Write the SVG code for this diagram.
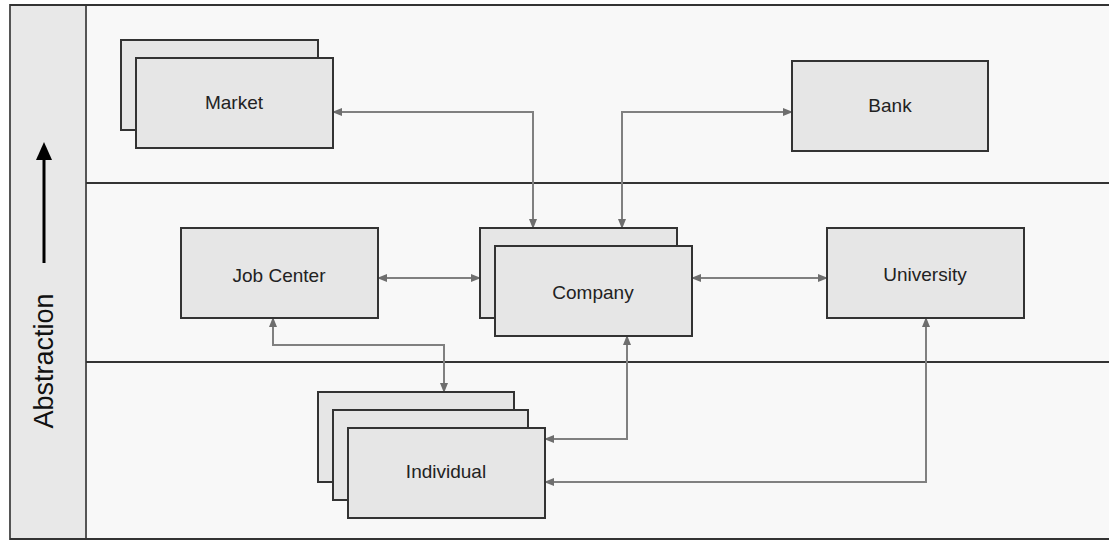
<svg xmlns="http://www.w3.org/2000/svg" width="1109" height="541" viewBox="0 0 1109 541">
<defs>
<style>
.node{fill:#e6e6e6;stroke:#333;stroke-width:2}
.lbl{font-family:"Liberation Sans",Arial,sans-serif;font-size:19px;fill:#222;text-anchor:middle}
.conn{fill:none;stroke:#808080;stroke-width:2}
.lane{stroke:#333;stroke-width:2}
</style>
<marker id="ah" markerWidth="10" markerHeight="10" refX="9" refY="5" orient="auto-start-reverse" markerUnits="userSpaceOnUse">
<path d="M0,1 L10,5 L0,9 Z" fill="#6e6e6e"/>
</marker>
</defs>
<rect x="0" y="0" width="1109" height="541" fill="#ffffff"/>
<rect x="86" y="5" width="1030" height="534" fill="#f8f8f8"/>
<rect x="10" y="5" width="76" height="534" fill="#e8e8e8" stroke="#555" stroke-width="2"/>
<line class="lane" x1="10" y1="5" x2="1109" y2="5"/>
<line class="lane" x1="10" y1="539" x2="1109" y2="539"/>
<line class="lane" x1="86" y1="183" x2="1109" y2="183"/>
<line class="lane" x1="86" y1="362" x2="1109" y2="362"/>
<g id="axis">
<line x1="44" y1="263" x2="44" y2="158" stroke="#000" stroke-width="3"/>
<path d="M36,160 L44,142 L52,160 Z" fill="#000"/>
<text x="0" y="0" transform="translate(53,361) rotate(-90)" font-family="'Liberation Sans',Arial,sans-serif" font-size="27" fill="#111" text-anchor="middle">Abstraction</text>
</g>
<g id="connectors">
<path class="conn" d="M333,112 H533 V228" marker-start="url(#ah)" marker-end="url(#ah)"/>
<path class="conn" d="M622,228 V112 H792" marker-start="url(#ah)" marker-end="url(#ah)"/>
<path class="conn" d="M378,278 H480" marker-start="url(#ah)" marker-end="url(#ah)"/>
<path class="conn" d="M692,278 H827" marker-start="url(#ah)" marker-end="url(#ah)"/>
<path class="conn" d="M273,318 V345 H444 V392" marker-start="url(#ah)" marker-end="url(#ah)"/>
<path class="conn" d="M627,336 V439 H545" marker-start="url(#ah)" marker-end="url(#ah)"/>
<path class="conn" d="M926,318 V482 H545" marker-start="url(#ah)" marker-end="url(#ah)"/>
</g>
<g id="market">
<rect class="node" x="121" y="40" width="197" height="90"/>
<rect class="node" x="136" y="58" width="197" height="90"/>
<text class="lbl" x="234" y="109">Market</text>
</g>
<g id="bank">
<rect class="node" x="792" y="61" width="196" height="90"/>
<text class="lbl" x="890" y="112">Bank</text>
</g>
<g id="jobcenter">
<rect class="node" x="181" y="228" width="197" height="90"/>
<text class="lbl" x="279" y="282">Job Center</text>
</g>
<g id="company">
<rect class="node" x="480" y="228" width="197" height="90"/>
<rect class="node" x="495" y="246" width="197" height="90"/>
<text class="lbl" x="593" y="299">Company</text>
</g>
<g id="university">
<rect class="node" x="827" y="228" width="197" height="90"/>
<text class="lbl" x="925" y="281">University</text>
</g>
<g id="individual">
<rect class="node" x="318" y="392" width="196" height="90"/>
<rect class="node" x="333" y="410" width="195" height="90"/>
<rect class="node" x="348" y="428" width="197" height="90"/>
<text class="lbl" x="446" y="478">Individual</text>
</g>
</svg>
